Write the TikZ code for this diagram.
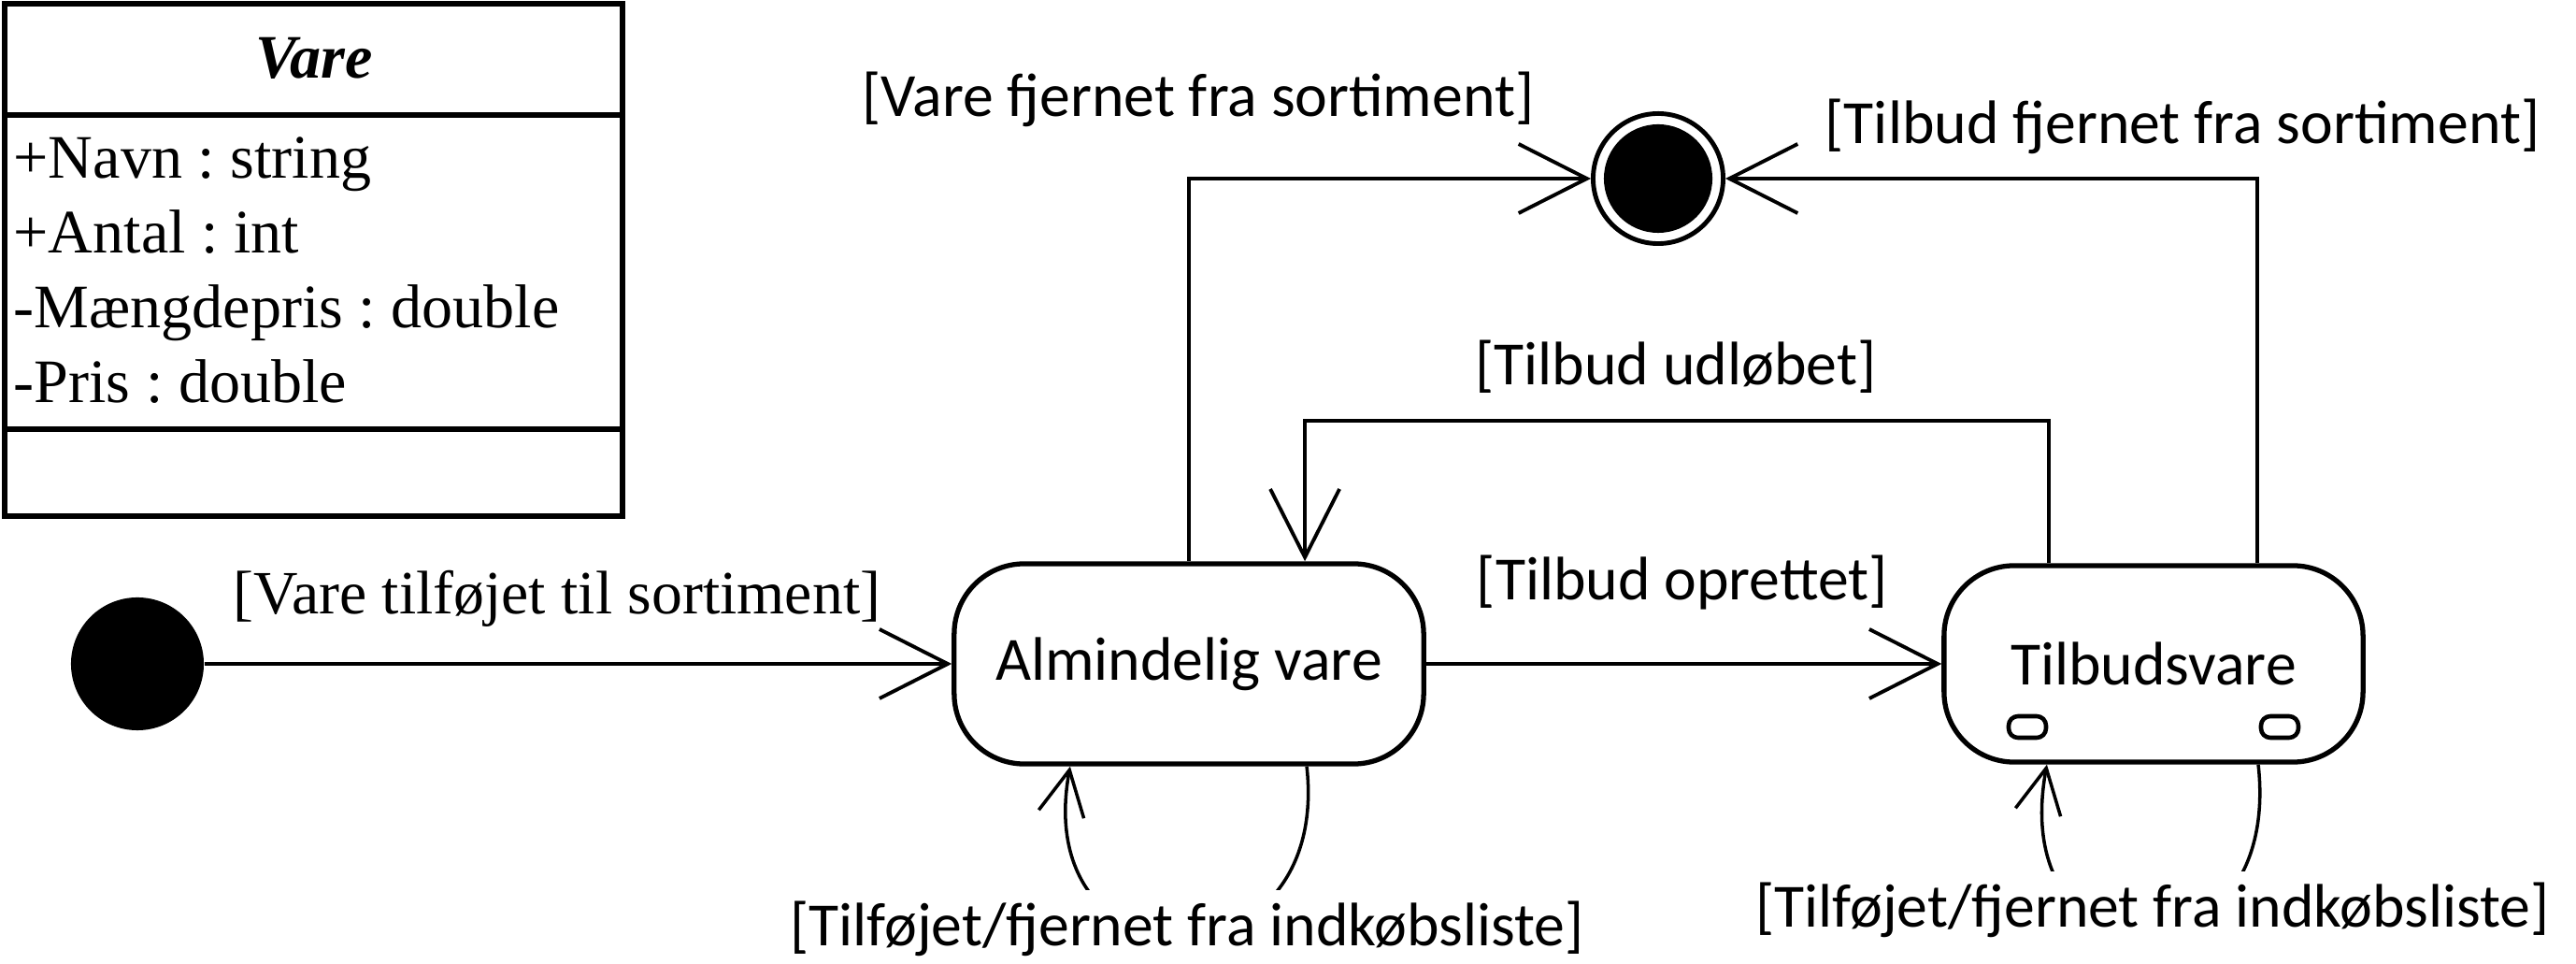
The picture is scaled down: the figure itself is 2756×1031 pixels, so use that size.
\documentclass[tikz,border=0pt]{standalone}
\usepackage{fontspec}
\setmainfont{Liberation Serif}
\newfontfamily\calibri{Carlito}
\usetikzlibrary{arrows.meta}
\frenchspacing

\begin{document}
\begin{tikzpicture}[x=0.01cm,y=-0.01cm,
  trans/.style={line width=1.1pt,-{Straight Barb[length=0.73cm,width=0.74cm]}},
  selfloop/.style={line width=1pt,-{Straight Barb[length=0.48cm,width=0.49cm]}},
  state/.style={draw,line width=1.5pt,rounded corners=0.75cm,inner sep=0pt,
    font=\calibri\fontsize{18.7}{22}\selectfont},
  lbl/.style={inner sep=0pt,font=\calibri\fontsize{18.7}{22}\selectfont},
  attr/.style={anchor=base west,inner sep=0pt,font=\fontsize{18.8}{22}\selectfont}]
\useasboundingbox (0,0) rectangle (2756,1031);
% klassen Vare
\draw[line width=1.8pt] (5,4) rectangle (666,552);
\draw[line width=1.8pt] (5,123) -- (666,123);
\draw[line width=1.8pt] (5,459) -- (666,459);
\node[anchor=base,inner sep=0pt,font=\fontsize{18.8}{22}\selectfont\bfseries\itshape] (vare) at (336,84) {Vare};
\node[attr] (navn) at (14,191) {+Navn : string};
\node[attr] (antal) at (14,271) {+Antal : int};
\node[attr] (maengde) at (14,351) {-Mængdepris : double};
\node[attr] (pris) at (14,431) {-Pris : double};
% tilstande
\node[circle,fill=black,minimum size=1.42cm,inner sep=0pt] (start) at (147,710) {};
\node[circle,draw,line width=1.4pt,minimum size=1.39cm,inner sep=0pt] (slut) at (1774,191) {};
\fill (slut.center) circle[radius=0.58cm];
\node[state,minimum width=5.02cm,minimum height=2.14cm] (alm) at (1272,710) {Almindelig vare};
\node[state,minimum width=4.48cm,minimum height=2.10cm] (tilbud) at (2304,710) {Tilbudsvare};
\draw[line width=1.3pt,rounded corners=0.1cm] ([shift={(-155,56)}]tilbud.center) rectangle ++(40,23);
\draw[line width=1.3pt,rounded corners=0.1cm] ([shift={(115,56)}]tilbud.center) rectangle ++(40,23);
% overgange
\draw[trans] (start) -- (alm);
\node[inner sep=0pt,font=\fontsize{18.7}{22}\selectfont] (tilfoejet) at (596,640) {[Vare tilføjet til sortiment]};
\draw[trans] (alm) -- (tilbud);
\node[lbl] (oprettet) at (1800,623) {[Tilbud oprettet]};
\draw[trans] ([xshift=-1.12cm]tilbud.north) -- ++(0,-152) -| ([xshift=1.24cm]alm.north);
\node[lbl] (udloebet) at (1793,392) {[Tilbud udløbet]};
\draw[trans] (alm.north) |- (slut);
\node[lbl] (vfjernet) at (1282,106) {[Vare fjernet fra sortiment]};
\draw[trans] ([xshift=1.11cm]tilbud.north) |- (slut);
\node[lbl] (tfjernet) at (2335,135) {[Tilbud fjernet fra sortiment]};
\draw[selfloop] ([xshift=1.26cm]alm.south) .. controls +(27,243) and +(-45,243) .. ([xshift=-1.27cm]alm.south);
\node[lbl,fill=white,inner sep=0.12cm] (indkoeb1) at (1270,993) {[Tilføjet/fjernet fra indkøbsliste]};
\draw[selfloop] ([xshift=1.12cm]tilbud.south) .. controls +(27,243) and +(-45,243) .. ([xshift=-1.14cm]tilbud.south);
\node[lbl,fill=white,inner sep=0.12cm] (indkoeb2) at (2303,973) {[Tilføjet/fjernet fra indkøbsliste]};
\end{tikzpicture}
\end{document}
